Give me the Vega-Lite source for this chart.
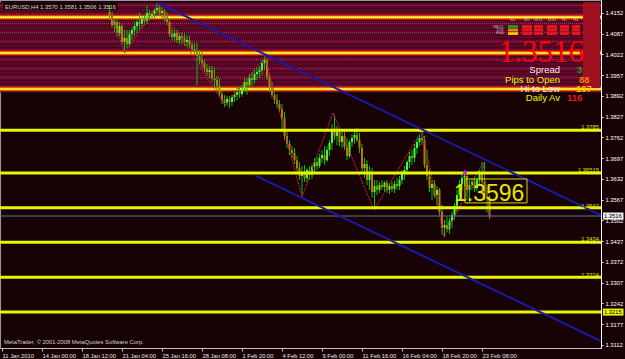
{
"$schema":"https://vega.github.io/schema/vega-lite/v6.json",
"width":601,"height":348,
"autosize":{"type":"none"},
"padding":{"left":0,"top":0,"right":24,"bottom":11},
"background":"#170306",
"config":{"view":{"stroke":"#9a9a9a","strokeWidth":1},"font":"Liberation Sans","axis":{"titleOpacity":0,"labelOverlap":false,"labelFlush":false,"labelBound":false,"grid":false}},
"datasets":{
"band":[{"x1":-0.8,"x2":239.6,"p1":1.4186,"p2":1.3903}],
"redlines":[{"p":1.4180},{"p":1.4171},{"p":1.4161},{"p":1.4152},{"p":1.4143},{"p":1.4133},{"p":1.4124},{"p":1.4114},{"p":1.4105},{"p":1.4096},{"p":1.4086},{"p":1.4077},{"p":1.4067},{"p":1.4058},{"p":1.4049},{"p":1.4039},{"p":1.4030},{"p":1.4020},{"p":1.4011},{"p":1.4002},{"p":1.3992},{"p":1.3983},{"p":1.3973},{"p":1.3964},{"p":1.3955},{"p":1.3945},{"p":1.3936},{"p":1.3926},{"p":1.3917},{"p":1.3908}],
"maglines":[{"p":1.4176},{"p":1.4148},{"p":1.4119},{"p":1.4091},{"p":1.4063},{"p":1.4035},{"p":1.4006},{"p":1.3978},{"p":1.3950},{"p":1.3922}],
"titlebg":[{"x1":0.4,"x2":46.4,"p1":1.4185,"p2":1.4161}],
"majors":[{"p":1.4139},{"p":1.4027},{"p":1.3914}],
"grid":[{"x1":232.4,"x2":239.2,"p1":1.4186,"p2":1.3917}],
"levels":[{"p":1.3785},{"p":1.3651},{"p":1.3542},{"p":1.3434},{"p":1.3324},{"p":1.3215}],
"bid":[{"p":1.3516}],
"chan":[{"b1":62.4,"p1":1.4183,"b2":239.6,"p2":1.3519},{"b1":101.2,"p1":1.3643,"b2":239.6,"p2":1.3124}],
"zz":[{"b":43.2,"p":1.4155},{"b":49.2,"p":1.4027},{"b":62.4,"p":1.4183},{"b":89.2,"p":1.3864},{"b":105.2,"p":1.4014},{"b":120,"p":1.3576},{"b":132.4,"p":1.3839},{"b":148.8,"p":1.3535},{"b":168,"p":1.3785},{"b":176.8,"p":1.3450},{"b":192.4,"p":1.3685},{"b":195.2,"p":1.3510}],
"candles":[
{"b":43,"o":1.4155,"h":1.4177,"l":1.4130,"c":1.4143},
{"b":44,"o":1.4143,"h":1.4155,"l":1.4105,"c":1.4114},
{"b":45,"o":1.4114,"h":1.4136,"l":1.4092,"c":1.4124},
{"b":46,"o":1.4124,"h":1.4130,"l":1.4077,"c":1.4089},
{"b":47,"o":1.4089,"h":1.4124,"l":1.4080,"c":1.4111},
{"b":48,"o":1.4111,"h":1.4118,"l":1.4052,"c":1.4061},
{"b":49,"o":1.4061,"h":1.4099,"l":1.4027,"c":1.4074},
{"b":50,"o":1.4074,"h":1.4099,"l":1.4042,"c":1.4055},
{"b":51,"o":1.4055,"h":1.4099,"l":1.4045,"c":1.4086},
{"b":52,"o":1.4086,"h":1.4108,"l":1.4067,"c":1.4099},
{"b":53,"o":1.4099,"h":1.4124,"l":1.4080,"c":1.4111},
{"b":54,"o":1.4111,"h":1.4130,"l":1.4089,"c":1.4124},
{"b":55,"o":1.4124,"h":1.4152,"l":1.4099,"c":1.4118},
{"b":56,"o":1.4118,"h":1.4139,"l":1.4105,"c":1.4133},
{"b":57,"o":1.4133,"h":1.4146,"l":1.4114,"c":1.4127},
{"b":58,"o":1.4127,"h":1.4177,"l":1.4118,"c":1.4152},
{"b":59,"o":1.4152,"h":1.4161,"l":1.4130,"c":1.4143},
{"b":60,"o":1.4143,"h":1.4158,"l":1.4133,"c":1.4149},
{"b":61,"o":1.4149,"h":1.4168,"l":1.4136,"c":1.4161},
{"b":62,"o":1.4161,"h":1.4183,"l":1.4149,"c":1.4168},
{"b":63,"o":1.4168,"h":1.4177,"l":1.4143,"c":1.4152},
{"b":64,"o":1.4152,"h":1.4171,"l":1.4136,"c":1.4158},
{"b":65,"o":1.4158,"h":1.4165,"l":1.4124,"c":1.4133},
{"b":66,"o":1.4133,"h":1.4155,"l":1.4114,"c":1.4124},
{"b":67,"o":1.4124,"h":1.4136,"l":1.4077,"c":1.4086},
{"b":68,"o":1.4086,"h":1.4105,"l":1.4067,"c":1.4077},
{"b":69,"o":1.4077,"h":1.4099,"l":1.4061,"c":1.4089},
{"b":70,"o":1.4089,"h":1.4099,"l":1.4058,"c":1.4067},
{"b":71,"o":1.4067,"h":1.4089,"l":1.4055,"c":1.4080},
{"b":72,"o":1.4080,"h":1.4092,"l":1.4052,"c":1.4074},
{"b":73,"o":1.4074,"h":1.4089,"l":1.4049,"c":1.4061},
{"b":74,"o":1.4061,"h":1.4083,"l":1.4045,"c":1.4067},
{"b":75,"o":1.4067,"h":1.4080,"l":1.4042,"c":1.4052},
{"b":76,"o":1.4052,"h":1.4061,"l":1.4030,"c":1.4039},
{"b":77,"o":1.4039,"h":1.4058,"l":1.4024,"c":1.4033},
{"b":78,"o":1.4033,"h":1.4058,"l":1.3926,"c":1.4017},
{"b":79,"o":1.4017,"h":1.4036,"l":1.3992,"c":1.4005},
{"b":80,"o":1.4005,"h":1.4030,"l":1.3983,"c":1.3995},
{"b":81,"o":1.3995,"h":1.4005,"l":1.3967,"c":1.3977},
{"b":82,"o":1.3977,"h":1.3992,"l":1.3955,"c":1.3967},
{"b":83,"o":1.3967,"h":1.3986,"l":1.3948,"c":1.3973},
{"b":84,"o":1.3973,"h":1.3986,"l":1.3936,"c":1.3948},
{"b":85,"o":1.3948,"h":1.3983,"l":1.3917,"c":1.3942},
{"b":86,"o":1.3942,"h":1.3955,"l":1.3911,"c":1.3923},
{"b":87,"o":1.3923,"h":1.3948,"l":1.3889,"c":1.3898},
{"b":88,"o":1.3898,"h":1.3911,"l":1.3867,"c":1.3879},
{"b":89,"o":1.3879,"h":1.3895,"l":1.3857,"c":1.3870},
{"b":90,"o":1.3870,"h":1.3892,"l":1.3861,"c":1.3883},
{"b":91,"o":1.3883,"h":1.3892,"l":1.3854,"c":1.3873},
{"b":92,"o":1.3873,"h":1.3895,"l":1.3861,"c":1.3889},
{"b":93,"o":1.3889,"h":1.3904,"l":1.3873,"c":1.3895},
{"b":94,"o":1.3895,"h":1.3917,"l":1.3879,"c":1.3904},
{"b":95,"o":1.3904,"h":1.3923,"l":1.3886,"c":1.3898},
{"b":96,"o":1.3898,"h":1.3926,"l":1.3889,"c":1.3917},
{"b":97,"o":1.3917,"h":1.3948,"l":1.3904,"c":1.3936},
{"b":98,"o":1.3936,"h":1.3948,"l":1.3895,"c":1.3926},
{"b":99,"o":1.3926,"h":1.3961,"l":1.3917,"c":1.3948},
{"b":100,"o":1.3948,"h":1.3967,"l":1.3923,"c":1.3942},
{"b":101,"o":1.3942,"h":1.3973,"l":1.3930,"c":1.3961},
{"b":102,"o":1.3961,"h":1.3980,"l":1.3942,"c":1.3967},
{"b":103,"o":1.3967,"h":1.3986,"l":1.3948,"c":1.3973},
{"b":104,"o":1.3973,"h":1.4005,"l":1.3955,"c":1.3995},
{"b":105,"o":1.3995,"h":1.4017,"l":1.3973,"c":1.4005},
{"b":106,"o":1.4005,"h":1.4011,"l":1.3942,"c":1.3951},
{"b":107,"o":1.3951,"h":1.3961,"l":1.3904,"c":1.3917},
{"b":108,"o":1.3917,"h":1.3936,"l":1.3886,"c":1.3895},
{"b":109,"o":1.3895,"h":1.3911,"l":1.3867,"c":1.3879},
{"b":110,"o":1.3879,"h":1.3898,"l":1.3854,"c":1.3867},
{"b":111,"o":1.3867,"h":1.3879,"l":1.3842,"c":1.3851},
{"b":112,"o":1.3851,"h":1.3867,"l":1.3779,"c":1.3823},
{"b":113,"o":1.3823,"h":1.3842,"l":1.3754,"c":1.3767},
{"b":114,"o":1.3767,"h":1.3779,"l":1.3729,"c":1.3742},
{"b":115,"o":1.3742,"h":1.3754,"l":1.3707,"c":1.3723},
{"b":116,"o":1.3723,"h":1.3735,"l":1.3698,"c":1.3713},
{"b":117,"o":1.3713,"h":1.3729,"l":1.3679,"c":1.3691},
{"b":118,"o":1.3691,"h":1.3704,"l":1.3654,"c":1.3666},
{"b":119,"o":1.3666,"h":1.3685,"l":1.3629,"c":1.3641},
{"b":120,"o":1.3641,"h":1.3673,"l":1.3585,"c":1.3654},
{"b":121,"o":1.3654,"h":1.3676,"l":1.3623,"c":1.3635},
{"b":122,"o":1.3635,"h":1.3666,"l":1.3620,"c":1.3660},
{"b":123,"o":1.3660,"h":1.3673,"l":1.3629,"c":1.3645},
{"b":124,"o":1.3645,"h":1.3679,"l":1.3632,"c":1.3670},
{"b":125,"o":1.3670,"h":1.3698,"l":1.3654,"c":1.3685},
{"b":126,"o":1.3685,"h":1.3701,"l":1.3660,"c":1.3673},
{"b":127,"o":1.3673,"h":1.3710,"l":1.3666,"c":1.3698},
{"b":128,"o":1.3698,"h":1.3723,"l":1.3682,"c":1.3707},
{"b":129,"o":1.3707,"h":1.3735,"l":1.3676,"c":1.3691},
{"b":130,"o":1.3691,"h":1.3735,"l":1.3685,"c":1.3723},
{"b":131,"o":1.3723,"h":1.3754,"l":1.3704,"c":1.3745},
{"b":132,"o":1.3745,"h":1.3804,"l":1.3723,"c":1.3785},
{"b":133,"o":1.3785,"h":1.3832,"l":1.3754,"c":1.3767},
{"b":134,"o":1.3767,"h":1.3798,"l":1.3738,"c":1.3779},
{"b":135,"o":1.3779,"h":1.3792,"l":1.3735,"c":1.3748},
{"b":136,"o":1.3748,"h":1.3779,"l":1.3729,"c":1.3767},
{"b":137,"o":1.3767,"h":1.3779,"l":1.3723,"c":1.3732},
{"b":138,"o":1.3732,"h":1.3760,"l":1.3691,"c":1.3704},
{"b":139,"o":1.3704,"h":1.3754,"l":1.3698,"c":1.3748},
{"b":140,"o":1.3748,"h":1.3773,"l":1.3732,"c":1.3760},
{"b":141,"o":1.3760,"h":1.3785,"l":1.3742,"c":1.3770},
{"b":142,"o":1.3770,"h":1.3792,"l":1.3748,"c":1.3754},
{"b":143,"o":1.3754,"h":1.3776,"l":1.3713,"c":1.3729},
{"b":144,"o":1.3729,"h":1.3742,"l":1.3654,"c":1.3666},
{"b":145,"o":1.3666,"h":1.3698,"l":1.3635,"c":1.3679},
{"b":146,"o":1.3679,"h":1.3691,"l":1.3613,"c":1.3629},
{"b":147,"o":1.3629,"h":1.3673,"l":1.3598,"c":1.3654},
{"b":148,"o":1.3654,"h":1.3666,"l":1.3573,"c":1.3591},
{"b":149,"o":1.3591,"h":1.3629,"l":1.3535,"c":1.3610},
{"b":150,"o":1.3610,"h":1.3629,"l":1.3582,"c":1.3598},
{"b":151,"o":1.3598,"h":1.3623,"l":1.3588,"c":1.3613},
{"b":152,"o":1.3613,"h":1.3629,"l":1.3598,"c":1.3607},
{"b":153,"o":1.3607,"h":1.3626,"l":1.3591,"c":1.3620},
{"b":154,"o":1.3620,"h":1.3629,"l":1.3588,"c":1.3598},
{"b":155,"o":1.3598,"h":1.3620,"l":1.3585,"c":1.3610},
{"b":156,"o":1.3610,"h":1.3623,"l":1.3591,"c":1.3601},
{"b":157,"o":1.3601,"h":1.3626,"l":1.3588,"c":1.3616},
{"b":158,"o":1.3616,"h":1.3635,"l":1.3598,"c":1.3610},
{"b":159,"o":1.3610,"h":1.3641,"l":1.3598,"c":1.3629},
{"b":160,"o":1.3629,"h":1.3660,"l":1.3616,"c":1.3648},
{"b":161,"o":1.3648,"h":1.3673,"l":1.3629,"c":1.3660},
{"b":162,"o":1.3660,"h":1.3691,"l":1.3645,"c":1.3685},
{"b":163,"o":1.3685,"h":1.3717,"l":1.3666,"c":1.3704},
{"b":164,"o":1.3704,"h":1.3723,"l":1.3676,"c":1.3698},
{"b":165,"o":1.3698,"h":1.3742,"l":1.3685,"c":1.3729},
{"b":166,"o":1.3729,"h":1.3760,"l":1.3710,"c":1.3748},
{"b":167,"o":1.3748,"h":1.3773,"l":1.3735,"c":1.3760},
{"b":168,"o":1.3760,"h":1.3785,"l":1.3738,"c":1.3754},
{"b":169,"o":1.3754,"h":1.3767,"l":1.3666,"c":1.3676},
{"b":170,"o":1.3676,"h":1.3723,"l":1.3629,"c":1.3641},
{"b":171,"o":1.3641,"h":1.3660,"l":1.3591,"c":1.3604},
{"b":172,"o":1.3604,"h":1.3629,"l":1.3566,"c":1.3616},
{"b":173,"o":1.3616,"h":1.3629,"l":1.3573,"c":1.3582},
{"b":174,"o":1.3582,"h":1.3610,"l":1.3551,"c":1.3598},
{"b":175,"o":1.3598,"h":1.3604,"l":1.3519,"c":1.3529},
{"b":176,"o":1.3529,"h":1.3551,"l":1.3457,"c":1.3479},
{"b":177,"o":1.3479,"h":1.3504,"l":1.3450,"c":1.3488},
{"b":178,"o":1.3488,"h":1.3513,"l":1.3466,"c":1.3475},
{"b":179,"o":1.3475,"h":1.3510,"l":1.3460,"c":1.3500},
{"b":180,"o":1.3500,"h":1.3529,"l":1.3479,"c":1.3519},
{"b":181,"o":1.3519,"h":1.3557,"l":1.3504,"c":1.3548},
{"b":182,"o":1.3548,"h":1.3598,"l":1.3529,"c":1.3582},
{"b":183,"o":1.3582,"h":1.3629,"l":1.3566,"c":1.3616},
{"b":184,"o":1.3616,"h":1.3648,"l":1.3598,"c":1.3635},
{"b":185,"o":1.3635,"h":1.3648,"l":1.3610,"c":1.3641},
{"b":186,"o":1.3641,"h":1.3651,"l":1.3566,"c":1.3598},
{"b":187,"o":1.3598,"h":1.3629,"l":1.3557,"c":1.3613},
{"b":188,"o":1.3613,"h":1.3635,"l":1.3598,"c":1.3623},
{"b":189,"o":1.3623,"h":1.3638,"l":1.3591,"c":1.3604},
{"b":190,"o":1.3604,"h":1.3635,"l":1.3594,"c":1.3629},
{"b":191,"o":1.3629,"h":1.3660,"l":1.3610,"c":1.3648},
{"b":192,"o":1.3648,"h":1.3685,"l":1.3598,"c":1.3623},
{"b":193,"o":1.3623,"h":1.3685,"l":1.3566,"c":1.3579},
{"b":194,"o":1.3579,"h":1.3613,"l":1.3526,"c":1.3570},
{"b":195,"o":1.3570,"h":1.3581,"l":1.3506,"c":1.3516}
],
"marker":[{"b":185.2,"p":1.3654}],
"box":[{"b1":185.2,"b2":210,"p1":1.3632,"p2":1.3557}],
"bigtag":[{"b":180.8,"p":1.3563,"t":"1.3596"}],
"lvlabels":[{"b":238.8,"p":1.3795,"t":"1.3785"},{"b":238.8,"p":1.3660,"t":"1.36515"},{"b":238.8,"p":1.3548,"t":"1.3542"},{"b":238.8,"p":1.3444,"t":"1.3434"},{"b":238.8,"p":1.3331,"t":"1.3324"}],
"tags":[{"b1":240.4,"b2":248.6,"p1":1.3527,"p2":1.3505,"b":240.8,"p":1.3516,"t":"1.3516","k":"bid"},{"b1":240.4,"b2":248.6,"p1":1.3226,"p2":1.3204,"b":240.8,"p":1.3215,"t":"1.3215","k":"level"}],
"boxes":[
{"b1":202.4,"b2":206.4,"p1":1.4114,"p2":1.4103,"s":"buy"},{"b1":202.4,"b2":206.4,"p1":1.4102,"p2":1.4094,"s":"mid"},{"b1":202.4,"b2":206.4,"p1":1.4092,"p2":1.4083,"s":"weak"},
{"b1":208,"b2":212,"p1":1.4114,"p2":1.4103,"s":"sell"},{"b1":208,"b2":212,"p1":1.4102,"p2":1.4094,"s":"sell"},{"b1":208,"b2":212,"p1":1.4092,"p2":1.4083,"s":"sell"},
{"b1":212.8,"b2":216.4,"p1":1.4114,"p2":1.4103,"s":"sell"},{"b1":212.8,"b2":216.4,"p1":1.4102,"p2":1.4094,"s":"sell"},{"b1":212.8,"b2":216.4,"p1":1.4092,"p2":1.4083,"s":"sell"},
{"b1":218,"b2":222,"p1":1.4114,"p2":1.4103,"s":"sell"},{"b1":218,"b2":222,"p1":1.4102,"p2":1.4094,"s":"sell"},{"b1":218,"b2":222,"p1":1.4092,"p2":1.4083,"s":"sell"},
{"b1":223.2,"b2":226.8,"p1":1.4114,"p2":1.4103,"s":"sell"},{"b1":223.2,"b2":226.8,"p1":1.4102,"p2":1.4094,"s":"sell"},{"b1":223.2,"b2":226.8,"p1":1.4092,"p2":1.4083,"s":"sell"},
{"b1":228,"b2":231.2,"p1":1.4114,"p2":1.4103,"s":"sell"},{"b1":228,"b2":231.2,"p1":1.4102,"p2":1.4094,"s":"sell"},{"b1":228,"b2":231.2,"p1":1.4092,"p2":1.4083,"s":"sell"}],
"heads":[{"b":204.4,"p":1.4130,"t":"M1"},{"b":210,"p":1.4130,"t":"M5"},{"b":214.6,"p":1.4130,"t":"M15"},{"b":220,"p":1.4130,"t":"M30"},{"b":225,"p":1.4130,"t":"H1"},{"b":229.6,"p":1.4130,"t":"H4"}],
"rows":[{"b":200.6,"p":1.4109,"t":"MACD"},{"b":200.6,"p":1.4098,"t":"STR"},{"b":200.6,"p":1.4088,"t":"EMA"}],
"plabels":[{"b":223.2,"p":1.3972,"t":"Spread","k":"spread"},{"b":223.2,"p":1.3942,"t":"Pips to Open","k":"pips"},{"b":223.2,"p":1.3913,"t":"Hi to Low","k":"hilo"},{"b":223.2,"p":1.3886,"t":"Daily Av","k":"davg"}],
"pvalues":[{"b":230,"p":1.3972,"t":"3","k":"spread"},{"b":230.8,"p":1.3942,"t":"88","k":"pips"},{"b":229.6,"p":1.3913,"t":"107","k":"hilo"},{"b":226,"p":1.3886,"t":"116","k":"davg"}],
"bigprice":[{"b":232.8,"p":1.3998,"t":"1.3516"}],
"title":[{"b":1.2,"p":1.4172,"t":"EURUSD,H4  1.3570 1.3581 1.3506 1.3516"}],
"copy":[{"b":0.8,"p":1.3120,"t":"MetaTrader, © 2001-2008 MetaQuotes Software Corp."}]
},
"layer":[
{"data":{"name":"band"},"mark":{"type":"rect","fill":"#3a0a2c"},
 "encoding":{
  "x":{"field":"x1","type":"quantitative","title":null,"scale":{"domain":[-0.8,239.6],"nice":false,"zero":false},
   "axis":{"title":null,"tickCount":40,"values":[0,16,32,48,64,80,96,112,128,144,160,176,192],
    "labelExpr":"['11 Jan 2010','14 Jan 00:00','18 Jan 12:00','21 Jan 04:00','25 Jan 16:00','28 Jan 08:00','1 Feb 20:00','4 Feb 12:00','9 Feb 00:00','11 Feb 16:00','16 Feb 04:00','18 Feb 20:00','23 Feb 08:00'][round(datum.value/16)]",
    "labelAlign":"left","labelBaseline":"top","labelPadding":1,"labelDx":1,"tickSize":3,"tickColor":"#c0c0c0","domainColor":"#c0c0c0",
    "labelColor":"#e6e6e6","labelFontSize":5.8,"labelFont":"Liberation Sans","labelOverlap":false,"labelFlush":false,"labelBound":false,"grid":false}},
  "x2":{"field":"x2"},
  "y":{"field":"p1","type":"quantitative","title":null,"scale":{"domain":[1.31025,1.41927],"nice":false,"zero":false},
   "axis":{"title":null,"orient":"right","tickCount":40,"values":[1.4152,1.4087,1.4022,1.3957,1.3892,1.3827,1.3762,1.3697,1.3632,1.3567,1.3502,1.3437,1.3372,1.3307,1.3242,1.3177,1.3112],
    "format":".4f","labelColor":"#ffffff","labelFontSize":5.8,"labelFont":"Liberation Sans","tickSize":2,"tickColor":"#ffffff","domainColor":"#ffffff","labelPadding":2,"grid":false,"labelOverlap":false,"labelFlush":false,"labelBound":false}},
  "y2":{"field":"p2"}}},
{"data":{"name":"redlines"},"mark":{"type":"rule","stroke":"#94001a","strokeWidth":1},"encoding":{"y":{"field":"p","type":"quantitative","title":null}}},
{"data":{"name":"maglines"},"mark":{"type":"rule","stroke":"#b82a86","strokeWidth":1,"strokeDash":[1,1]},"encoding":{"y":{"field":"p","type":"quantitative","title":null}}},
{"data":{"name":"titlebg"},"mark":{"type":"rect","fill":"#1c0306"},"encoding":{"x":{"field":"x1","type":"quantitative","title":null},"x2":{"field":"x2"},"y":{"field":"p1","type":"quantitative","title":null},"y2":{"field":"p2"}}},
{"data":{"name":"majors"},"mark":{"type":"rule","stroke":"#c82400","strokeWidth":5},"encoding":{"y":{"field":"p","type":"quantitative","title":null}}},
{"data":{"name":"majors"},"mark":{"type":"rule","stroke":"#ff8c00","strokeWidth":3},"encoding":{"y":{"field":"p","type":"quantitative","title":null}}},
{"data":{"name":"majors"},"mark":{"type":"rule","stroke":"#ffff40","strokeWidth":1.5},"encoding":{"y":{"field":"p","type":"quantitative","title":null}}},
{"data":{"name":"grid"},"mark":{"type":"rect","fill":"#a01020"},"encoding":{"x":{"field":"x1","type":"quantitative","title":null},"x2":{"field":"x2"},"y":{"field":"p1","type":"quantitative","title":null},"y2":{"field":"p2"}}},
{"data":{"name":"candles"},"mark":{"type":"rule","stroke":"#00c400","strokeWidth":1},"encoding":{"x":{"field":"b","type":"quantitative","title":null},"y":{"field":"l","type":"quantitative","title":null},"y2":{"field":"h"}}},
{"data":{"name":"candles"},"mark":{"type":"rule","strokeWidth":2},"encoding":{"x":{"field":"b","type":"quantitative","title":null},"y":{"field":"o","type":"quantitative","title":null},"y2":{"field":"c"},
 "color":{"condition":{"test":"datum.c >= datum.o","value":"#3cff3c"},"value":"#c07800"}}},
{"data":{"name":"zz"},"mark":{"type":"line","stroke":"#d0204a","strokeWidth":1,"strokeDash":[2,1]},"encoding":{"x":{"field":"b","type":"quantitative","title":null},"y":{"field":"p","type":"quantitative","title":null}}},
{"data":{"name":"levels"},"mark":{"type":"rule","stroke":"#e8f800","strokeWidth":3},"encoding":{"y":{"field":"p","type":"quantitative","title":null}}},
{"data":{"name":"bid"},"mark":{"type":"rule","stroke":"#66768e","strokeWidth":1},"encoding":{"y":{"field":"p","type":"quantitative","title":null}}},
{"data":{"name":"chan"},"mark":{"type":"rule","stroke":"#1a1aa8","strokeWidth":2},"encoding":{"x":{"field":"b1","type":"quantitative","title":null},"x2":{"field":"b2"},"y":{"field":"p1","type":"quantitative","title":null},"y2":{"field":"p2"}}},
{"data":{"name":"marker"},"mark":{"type":"point","shape":"triangle-up","filled":true,"color":"#ff00ff","size":30,"opacity":1},"encoding":{"x":{"field":"b","type":"quantitative","title":null},"y":{"field":"p","type":"quantitative","title":null}}},
{"data":{"name":"box"},"mark":{"type":"rect","fillOpacity":0,"stroke":"#d8d800","strokeWidth":1},"encoding":{"x":{"field":"b1","type":"quantitative","title":null},"x2":{"field":"b2"},"y":{"field":"p1","type":"quantitative","title":null},"y2":{"field":"p2"}}},
{"data":{"name":"bigtag"},"mark":{"type":"text","align":"left","baseline":"alphabetic","fontSize":23,"color":"#e4e400","font":"Liberation Sans"},"encoding":{"x":{"field":"b","type":"quantitative","title":null},"y":{"field":"p","type":"quantitative","title":null},"text":{"field":"t"}}},
{"data":{"name":"lvlabels"},"mark":{"type":"text","align":"right","baseline":"middle","fontSize":5.8,"color":"#e0e000","font":"Liberation Sans"},"encoding":{"x":{"field":"b","type":"quantitative","title":null},"y":{"field":"p","type":"quantitative","title":null},"text":{"field":"t"}}},
{"data":{"name":"tags"},"mark":{"type":"rect"},"encoding":{"x":{"field":"b1","type":"quantitative","title":null},"x2":{"field":"b2"},"y":{"field":"p1","type":"quantitative","title":null},"y2":{"field":"p2"},
 "color":{"field":"k","type":"nominal","legend":null,"scale":{"domain":["bid","level"],"range":["#eeeeee","#e8f800"]}}}},
{"data":{"name":"tags"},"mark":{"type":"text","align":"left","baseline":"middle","fontSize":5.8,"color":"#000000","font":"Liberation Sans"},"encoding":{"x":{"field":"b","type":"quantitative","title":null},"y":{"field":"p","type":"quantitative","title":null},"text":{"field":"t"}}},
{"data":{"name":"boxes"},"mark":{"type":"rect"},"encoding":{"x":{"field":"b1","type":"quantitative","title":null},"x2":{"field":"b2"},"y":{"field":"p1","type":"quantitative","title":null},"y2":{"field":"p2"},
 "fill":{"field":"s","type":"nominal","legend":null,"scale":{"domain":["buy","mid","weak","sell"],"range":["#20a020","#ff8000","#ffc000","#e81818"]}}}},
{"data":{"name":"heads"},"mark":{"type":"text","align":"center","baseline":"middle","fontSize":4,"color":"#b8b8b8","font":"Liberation Sans"},"encoding":{"x":{"field":"b","type":"quantitative","title":null},"y":{"field":"p","type":"quantitative","title":null},"text":{"field":"t"}}},
{"data":{"name":"rows"},"mark":{"type":"text","align":"right","baseline":"middle","fontSize":3.5,"color":"#b8b8b8","font":"Liberation Sans"},"encoding":{"x":{"field":"b","type":"quantitative","title":null},"y":{"field":"p","type":"quantitative","title":null},"text":{"field":"t"}}},
{"data":{"name":"bigprice"},"mark":{"type":"text","align":"right","baseline":"alphabetic","fontSize":31,"color":"#ff0000","font":"Liberation Sans Narrow"},"encoding":{"x":{"field":"b","type":"quantitative","title":null},"y":{"field":"p","type":"quantitative","title":null},"text":{"field":"t"}}},
{"data":{"name":"plabels"},"mark":{"type":"text","align":"right","baseline":"middle","fontSize":9.5,"font":"Liberation Sans"},"encoding":{"x":{"field":"b","type":"quantitative","title":null},"y":{"field":"p","type":"quantitative","title":null},"text":{"field":"t"},
 "color":{"field":"k","type":"nominal","legend":null,"scale":{"domain":["spread","pips","hilo","davg"],"range":["#8890a8","#9ea4bc","#a8b8e8","#a0c0e8"]}}}},
{"data":{"name":"pvalues"},"mark":{"type":"text","align":"left","baseline":"middle","fontSize":9.5,"fontWeight":"bold","font":"Liberation Sans"},"encoding":{"x":{"field":"b","type":"quantitative","title":null},"y":{"field":"p","type":"quantitative","title":null},"text":{"field":"t"},
 "fill":{"field":"k","type":"nominal","legend":null,"scale":{"domain":["spread","pips","hilo","davg"],"range":["#f0b400","#ff7a00","#ffd000","#ff5a10"]}}}},
{"data":{"name":"title"},"mark":{"type":"text","align":"left","baseline":"middle","fontSize":5.8,"color":"#d8d8d8","font":"Liberation Sans"},"encoding":{"x":{"field":"b","type":"quantitative","title":null},"y":{"field":"p","type":"quantitative","title":null},"text":{"field":"t"}}},
{"data":{"name":"copy"},"mark":{"type":"text","align":"left","baseline":"middle","fontSize":5.8,"color":"#d0d0d0","font":"Liberation Sans"},"encoding":{"x":{"field":"b","type":"quantitative","title":null},"y":{"field":"p","type":"quantitative","title":null},"text":{"field":"t"}}}
]
}
